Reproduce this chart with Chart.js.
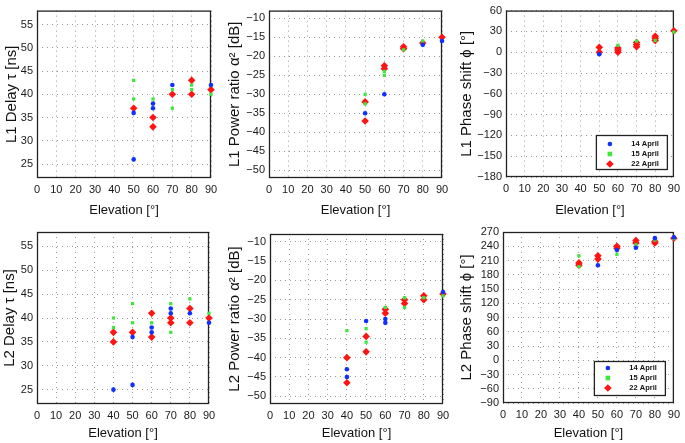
<!DOCTYPE html>
<html>
<head>
<meta charset="utf-8">
<script src="https://cdn.jsdelivr.net/npm/chart.js@4.4.0/dist/chart.umd.min.js"></script>
<style>
    body { margin: 0; background: #ffffff; }
    #wrap { position: relative; width: 685px; height: 443px; overflow: hidden; }
    #wrap canvas { position: absolute; }
</style>
</head>
<body>
<div id="wrap">
    <canvas id="l1Delay"></canvas>
    <canvas id="l1Power"></canvas>
    <canvas id="l1Phase"></canvas>
    <canvas id="l2Delay"></canvas>
    <canvas id="l2Power"></canvas>
    <canvas id="l2Phase"></canvas>
</div>
<script>
// Series labels and tick values
const dates = ['14 April', '15 April', '22 April'];
const elevationTicks = [0, 10, 20, 30, 40, 50, 60, 70, 80, 90];
const delayTicks = [25, 30, 35, 40, 45, 50, 55];
const powerTicks = [-50, -45, -40, -35, -30, -25, -20, -15, -10];
const l1PhaseTicks = [-180, -150, -120, -90, -60, -30, 0, 30, 60];
const l2PhaseTicks = [-90, -60, -30, 0, 30, 60, 90, 120, 150, 180, 210, 240, 270];

// L1 delay [ns] as [elevation, value]
const l1Delay14 = [[50, 36], [50, 26], [60, 38], [60, 37], [70, 42], [90, 42]];
const l1Delay15 = [[50, 43], [50, 39], [60, 39], [70, 41], [70, 37], [80, 42], [80, 41], [90, 40]];
const l1Delay22 = [[50, 37], [60, 35], [60, 33], [70, 40], [80, 43], [80, 40], [90, 41]];

// L1 power ratio [dB]
const l1Power14 = [[50, -35], [60, -30], [80, -17], [90, -16]];
const l1Power15 = [[50, -30], [50, -32.5], [60, -25], [60, -24], [70, -18.3], [80, -16]];
const l1Power22 = [[50, -32], [50, -37], [60, -22.5], [60, -23.3], [70, -17.5], [70, -18], [80, -16.5], [90, -15]];

// L1 phase shift [deg]
const l1Phase14 = [[50, -3]];
const l1Phase15 = [[60, 10], [70, 16], [80, 17], [90, 29]];
const l1Phase22 = [[50, 7], [50, 0], [60, 6], [60, 3], [60, 0], [70, 14], [70, 11], [70, 8], [80, 23], [80, 20], [80, 17], [90, 31]];

// L2 delay [ns]
const l2Delay14 = [[40, 25], [50, 36], [50, 26], [60, 38], [60, 37], [70, 42], [70, 41], [80, 41], [90, 39]];
const l2Delay15 = [[40, 40], [40, 38], [50, 43], [50, 39], [60, 39], [70, 43], [70, 37], [80, 44], [90, 41]];
const l2Delay22 = [[40, 37], [40, 35], [50, 37], [60, 41], [60, 36], [70, 40], [70, 39], [80, 42], [80, 39], [90, 40]];

// L2 power ratio [dB]
const l2Power14 = [[40, -43], [40, -45], [50, -30.5], [60, -30], [60, -31], [90, -23]];
const l2Power15 = [[40, -33], [50, -32.5], [50, -36], [60, -27], [70, -24.5], [70, -27], [80, -24.5], [90, -24]];
const l2Power22 = [[40, -40], [40, -46.5], [50, -34.5], [50, -38.5], [60, -27.5], [60, -28.5], [70, -25], [70, -26], [80, -24], [80, -25], [90, -23.5]];

// L2 phase shift [deg]
const l2Phase14 = [[50, 200], [60, 232], [70, 237], [80, 257], [90, 259]];
const l2Phase15 = [[40, 220], [40, 197], [60, 223], [70, 243], [80, 253], [90, 256]];
const l2Phase22 = [[40, 205], [40, 200], [50, 220], [50, 213], [60, 240], [60, 236], [70, 252], [70, 247], [80, 250], [80, 247], [90, 257]];

Chart.defaults.font.family = "'Liberation Sans', Arial, Helvetica, sans-serif";
Chart.defaults.color = '#1a1a1a';

// Marker look per date
const markers = [
    { color: '#1030ff', style: 'circle', radius: 2.3 },
    { color: '#3ee63e', style: 'rect', radius: 2.3 },
    { color: '#ff1414', style: 'rectRot', radius: 3.8 }
];

// Dark box around the plot area
const framePlugin = {
    id: 'frame',
    beforeDatasetsDraw(chart) {
        const { ctx, chartArea: a } = chart;
        ctx.save();
        ctx.strokeStyle = '#222';
        ctx.lineWidth = 1.3;
        ctx.strokeRect(a.left + 0.5, a.top + 0.5, a.right - a.left - 1, a.bottom - a.top - 1);
        ctx.restore();
    }
};

// Small boxed legend in the lower right corner
const boxLegendPlugin = {
    id: 'boxLegend',
    afterDraw(chart, args, opts) {
        if (!opts.display) return;
        const { ctx, chartArea: a } = chart;
        const w = 72, h = 35;
        const x0 = a.right - opts.right - w;
        const y0 = a.bottom - opts.bottom - h;
        ctx.save();
        ctx.fillStyle = '#fff';
        ctx.fillRect(x0, y0, w, h);
        ctx.strokeStyle = '#222';
        ctx.lineWidth = 1.3;
        ctx.strokeRect(x0 + 0.5, y0 + 0.5, w - 1, h - 1);
        ctx.font = "bold 7.5px 'Liberation Sans', Arial, sans-serif";
        ctx.textAlign = 'right';
        ctx.textBaseline = 'middle';
        chart.data.datasets.forEach((ds, i) => {
            const m = markers[i];
            const mx = x0 + 14;
            const my = y0 + opts.firstRow + i * 10;
            ctx.fillStyle = m.color;
            ctx.beginPath();
            if (m.style === 'circle') {
                ctx.arc(mx, my, m.radius, 0, Math.PI * 2);
            } else if (m.style === 'rect') {
                ctx.rect(mx - m.radius, my - m.radius, m.radius * 2, m.radius * 2);
            } else {
                ctx.moveTo(mx, my - m.radius);
                ctx.lineTo(mx + m.radius, my);
                ctx.lineTo(mx, my + m.radius);
                ctx.lineTo(mx - m.radius, my);
                ctx.closePath();
            }
            ctx.fill();
            ctx.fillStyle = '#111';
            ctx.fillText(ds.label, x0 + w - 9, my);
        });
        ctx.restore();
    }
};

// Panel layout: canvas box and the plot area inside it (page pixels)
const panels = [
    { id: 'l1Delay', box: [0, 0, 225, 220], area: [37, 7, 211, 178], range: [22, 58], ticks: delayTicks,
      title: 'L1 Delay τ [ns]', titleX: 12, series: [l1Delay14, l1Delay15, l1Delay22] },
    { id: 'l1Power', box: [225, 0, 230, 220], area: [269, 7, 442, 178], range: [-52, -8], ticks: powerTicks,
      title: 'L1 Power ratio α² [dB]', titleX: 10, series: [l1Power14, l1Power15, l1Power22] },
    { id: 'l1Phase', box: [455, 0, 230, 220], area: [506, 7, 678, 177], range: [-180, 60], ticks: l1PhaseTicks,
      title: 'L1 Phase shift ϕ [°]', titleX: 12, series: [l1Phase14, l1Phase15, l1Phase22],
      legend: { right: 6, bottom: 7, firstRow: 9 } },
    { id: 'l2Delay', box: [0, 220, 225, 223], area: [37, 232, 209, 404], range: [22, 58], ticks: delayTicks,
      title: 'L2 Delay τ [ns]', titleX: 10, series: [l2Delay14, l2Delay15, l2Delay22] },
    { id: 'l2Power', box: [225, 220, 230, 223], area: [270, 234, 443, 404], range: [-52, -8], ticks: powerTicks,
      title: 'L2 Power ratio α² [dB]', titleX: 10, series: [l2Power14, l2Power15, l2Power22] },
    { id: 'l2Phase', box: [455, 220, 230, 223], area: [503, 232, 676, 403], range: [-90, 270], ticks: l2PhaseTicks,
      title: 'L2 Phase shift ϕ [°]', titleX: 12, series: [l2Phase14, l2Phase15, l2Phase22],
      legend: { right: 8, bottom: 7, firstRow: 7 } }
];

// Tick text with a proper minus sign
const formatTick = (value) => String(value).replace('-', '\u2212');

function buildPanel(p) {
    const canvas = document.getElementById(p.id);
    const [bx, by, bw, bh] = p.box;
    const [al, at, ar, ab] = p.area;
    canvas.width = bw;
    canvas.height = bh;
    canvas.style.left = bx + 'px';
    canvas.style.top = by + 'px';
    canvas.style.width = bw + 'px';
    canvas.style.height = bh + 'px';

    const datasets = p.series.map((pts, i) => ({
        label: dates[i],
        data: pts.map(([x, y]) => ({ x, y })),
        pointStyle: markers[i].style,
        pointRadius: markers[i].radius,
        pointBackgroundColor: markers[i].color,
        pointBorderColor: markers[i].color,
        pointBorderWidth: 0,
        clip: false
    }));

    // dotted grid, no axis line (the frame plugin draws the box)
    const grid = { color: 'rgba(0, 0, 0, 0.4)', lineWidth: 1, drawTicks: false };
    const border = { display: false, dash: [1, 4] };

    return new Chart(canvas.getContext('2d'), {
        type: 'scatter',
        data: { datasets },
        options: {
            responsive: false,
            animation: false,
            layout: {
                padding: { left: 0, top: at - by, right: bx + bw - ar, bottom: 0 }
            },
            plugins: {
                legend: { display: false },
                tooltip: { enabled: false },
                boxLegend: p.legend ? Object.assign({ display: true }, p.legend) : { display: false }
            },
            scales: {
                x: {
                    type: 'linear',
                    min: 0,
                    max: 90,
                    afterBuildTicks: (scale) => { scale.ticks = elevationTicks.map(v => ({ value: v })); },
                    afterFit: (scale) => { scale.height = by + bh - ab; },
                    grid: grid,
                    border: border,
                    ticks: { padding: 5, font: { size: 11 }, maxRotation: 0, autoSkip: false },
                    title: {
                        display: true,
                        text: 'Elevation [°]',
                        font: { size: 13 },
                        color: '#111',
                        padding: { top: 0, bottom: 2 }
                    }
                },
                y: {
                    type: 'linear',
                    min: p.range[0],
                    max: p.range[1],
                    afterBuildTicks: (scale) => { scale.ticks = p.ticks.map(v => ({ value: v })); },
                    afterFit: (scale) => { scale.width = al - bx; },
                    grid: grid,
                    border: border,
                    ticks: { padding: 4, font: { size: 11 }, autoSkip: false, callback: formatTick },
                    title: {
                        display: true,
                        text: p.title,
                        font: { size: 15 },
                        color: '#111',
                        padding: { top: p.titleX - 9, bottom: 0 }
                    }
                }
            }
        },
        plugins: [framePlugin, boxLegendPlugin]
    });
}

const charts = panels.map(buildPanel);
</script>
</body>
</html>
